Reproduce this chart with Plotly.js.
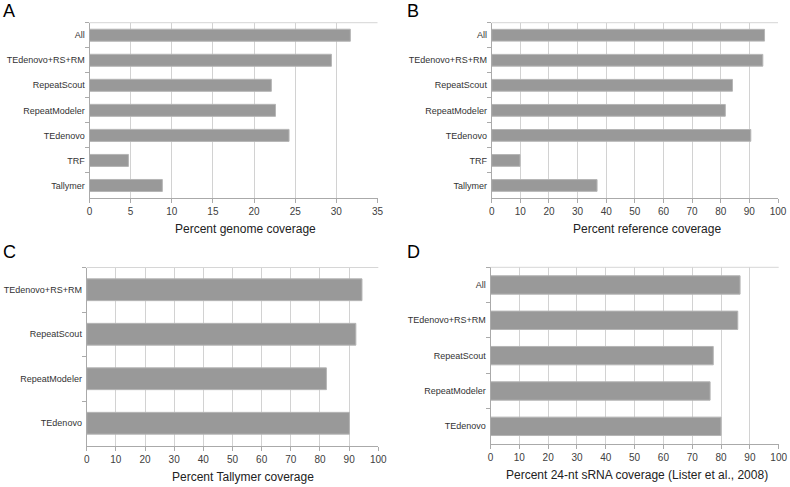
<!DOCTYPE html>
<html><head><meta charset="utf-8">
<script src="https://cdn.plot.ly/plotly-3.0.1.min.js"></script>
<style>html,body{margin:0;padding:0;background:#fff}#chart{width:790px;height:487px}</style>
</head><body><div id="chart"></div>
<script>
// ---- data ----
const catsA = ['All','TEdenovo+RS+RM','RepeatScout','RepeatModeler','TEdenovo','TRF','Tallymer'];
const valsA = [31.7, 29.4, 22.1, 22.6, 24.25, 4.73, 8.85];
const catsB = ['All','TEdenovo+RS+RM','RepeatScout','RepeatModeler','TEdenovo','TRF','Tallymer'];
const valsB = [95.3, 94.7, 84.1, 81.6, 90.5, 9.9, 36.8];
const catsC = ['TEdenovo+RS+RM','RepeatScout','RepeatModeler','TEdenovo'];
const valsC = [94.4, 92.3, 82.2, 90.1];
const catsD = ['All','TEdenovo+RS+RM','RepeatScout','RepeatModeler','TEdenovo'];
const valsD = [86.6, 85.8, 77.3, 76.2, 80.0];
const titleA = 'Percent genome coverage';
const titleB = 'Percent reference coverage';
const titleC = 'Percent Tallymer coverage';
const titleD = 'Percent 24-nt sRNA coverage (Lister et al., 2008)';

const W = 790, H = 487;
const px = x => x / W;
const py = y => 1 - y / H;
const FONT = 'Liberation Sans, Arial, sans-serif';

function bar(cats, vals, n, w) {
  return {type:'bar', orientation:'h', x: vals, y: cats, width: w,
    xaxis: n === 1 ? 'x' : 'x' + n, yaxis: n === 1 ? 'y' : 'y' + n,
    marker:{color:'#999999', line:{color:'#b5b5b5', width:1}},
    hoverinfo:'skip', showlegend:false};
}
function xax(dom, yanchor, range, dtick) {
  return {domain: dom, anchor: yanchor, range: range, dtick: dtick, tick0: 0,
    showgrid: true, gridcolor:'#d2d2d2', gridwidth:1, zeroline:false,
    showline:true, linecolor:'#aaaaaa', linewidth:1, mirror:false,
    ticks:'outside', ticklen:4, tickcolor:'#aaaaaa',
    tickfont:{family:FONT, size:10, color:'#404040'}, fixedrange:true};
}
function yax(dom, xanchor) {
  return {domain: dom, anchor: xanchor, type:'category', autorange:'reversed',
    showgrid:false, zeroline:false, showline:true, linecolor:'#aaaaaa', linewidth:1,
    ticks:'outside', ticklen:4, tickcolor:'#aaaaaa', tickson:'boundaries',
    ticklabelstandoff: 2,
    tickfont:{family:FONT, size:9, color:'#333333'}, fixedrange:true};
}

const data = [
  bar(catsA, valsA, 1, 0.48),
  bar(catsB, valsB, 2, 0.47),
  bar(catsC, valsC, 3, 0.49),
  bar(catsD, valsD, 4, 0.52)
];

const dA = {x:[px(89.5), px(377.5)], y:[py(198), py(22.7)]};
const dB = {x:[px(491.7), px(778)], y:[py(198), py(22.7)]};
const dC = {x:[px(86.7), px(378.3)], y:[py(445.5), py(267.5)]};
const dD = {x:[px(490.5), px(778.7)], y:[py(444), py(267.3)]};

function ann(text, x, y, size, color) {
  return {text: text, xref:'paper', yref:'paper', x: px(x), y: py(y),
    xanchor:'center', yanchor:'middle', showarrow:false,
    font:{family:FONT, size:size, color:color}};
}
function topLine(n) {
  const xs = n === 1 ? 'x' : 'x' + n, ys = n === 1 ? 'y' : 'y' + n;
  return {type:'line', xref: xs + ' domain', yref: ys + ' domain', x0:0, x1:1, y0:1, y1:1,
    line:{color:'#d6d6d6', width:1}};
}

const layout = {
  width: W, height: H, margin:{l:0, r:0, t:0, b:0},
  paper_bgcolor:'#ffffff', plot_bgcolor:'#ffffff',
  xaxis: xax(dA.x, 'y', [0, 35], 5),
  yaxis: yax(dA.y, 'x'),
  xaxis2: xax(dB.x, 'y2', [0, 100], 10),
  yaxis2: yax(dB.y, 'x2'),
  xaxis3: xax(dC.x, 'y3', [0, 100], 10),
  yaxis3: yax(dC.y, 'x3'),
  xaxis4: xax(dD.x, 'y4', [0, 100], 10),
  yaxis4: yax(dD.y, 'x4'),
  shapes: [topLine(1), topLine(2), topLine(3), topLine(4)],
  annotations: [
    ann(titleA, 245, 229, 12, '#222222'),
    ann(titleB, 647, 229, 12, '#222222'),
    ann(titleC, 243, 477, 12, '#222222'),
    ann(titleD, 637, 475, 12, '#222222'),
    ann('A', 9, 11, 18, '#000000'),
    ann('B', 413, 11, 18, '#000000'),
    ann('C', 9, 252, 18, '#000000'),
    ann('D', 413, 252, 18, '#000000')
  ]
};

Plotly.newPlot('chart', data, layout, {staticPlot:true, displayModeBar:false});
</script>
</body></html>
